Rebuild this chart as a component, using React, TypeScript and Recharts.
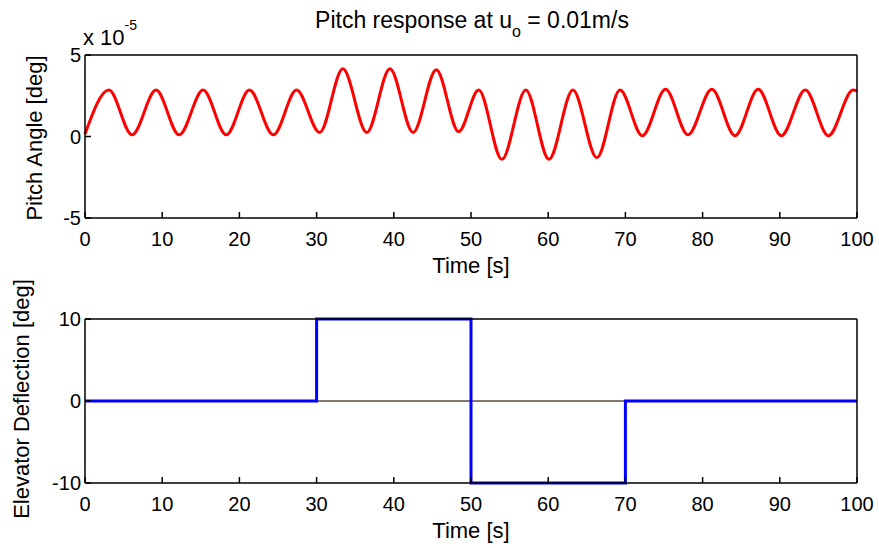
import { LineChart, Line, XAxis, YAxis, Label } from "recharts";

// pitch angle (units of 1e-5 deg)
const pitchTime = [
  0, 3.1, 6.1, 9.2, 12.2, 15.3, 18.3, 21.3, 24.4, 27.4, 30.4, 33.4, 36.5, 39.5, 42.5, 45.5, 48.4,
  51.0, 54.0, 57.1, 60.1, 63.2, 66.3, 69.3, 72.2, 75.2, 78.1, 81.2, 84.2, 87.2, 90.2, 93.3, 96.3,
  99.5, 100,
];
const pitchAngle = [
  0.15, 2.85, 0.1, 2.85, 0.1, 2.85, 0.1, 2.85, 0.1, 2.85, 0.25, 4.15, 0.25, 4.15, 0.25, 4.1, 0.3,
  2.85, -1.4, 2.85, -1.4, 2.85, -1.3, 2.85, 0.05, 2.9, 0.1, 2.9, 0.05, 2.9, 0.05, 2.85, 0.05,
  2.85, 2.8,
];

// elevator input (deg), step changes
const elevatorTime = [0, 30, 50, 70, 100];
const elevatorDeg = [0, 10, -10, 0, 0];
const zeroLineTime = [0, 100];

const timeTicks = [0, 10, 20, 30, 40, 50, 60, 70, 80, 90, 100];
const pitchTicks = [-5, 0, 5];
const elevatorTicks = [-10, 0, 10];

const FONT = "'Liberation Sans', Arial, Helvetica, sans-serif";
const TICK_LEN = 6;
const X_MARGIN = 14;
const Y_MARGIN = 4;

const pitchData = pitchTime.map((t, i) => ({ t, v: pitchAngle[i] }));
const elevatorData = elevatorTime.map((t, i) => ({ t, v: elevatorDeg[i] }));
const zeroData = zeroLineTime.map((t) => ({ t, v: 0 }));

// tick renderers: label + an inward tick mark, matlab style
function BottomTick({ x, y, payload }: any) {
  const axisY = y - X_MARGIN;
  return (
    <g>
      <line x1={x} x2={x} y1={axisY} y2={axisY - TICK_LEN} stroke="#000" strokeWidth={1.5} />
      <text x={x} y={y + 14} textAnchor="middle" fontSize={20} fontFamily={FONT} fill="#000">
        {payload.value}
      </text>
    </g>
  );
}

function LeftTick({ x, y, payload }: any) {
  const axisX = x + Y_MARGIN;
  return (
    <g>
      <line x1={axisX} x2={axisX + TICK_LEN} y1={y} y2={y} stroke="#000" strokeWidth={1.5} />
      <text x={x} y={y + 7} textAnchor="end" fontSize={20} fontFamily={FONT} fill="#000">
        {payload.value}
      </text>
    </g>
  );
}

function TopTick({ x, y }: any) {
  return <line x1={x} x2={x} y1={y} y2={y + TICK_LEN} stroke="#000" strokeWidth={1.5} />;
}

function RightTick({ x, y }: any) {
  return <line x1={x} x2={x - TICK_LEN} y1={y} y2={y} stroke="#000" strokeWidth={1.5} />;
}

function BoxAxes({ yTicks, yDomain, xHeight, labelOffset }: any) {
  return [
    <XAxis
      key="xb"
      xAxisId="main"
      dataKey="t"
      type="number"
      domain={[0, 100]}
      ticks={timeTicks}
      height={xHeight}
      tickSize={0}
      tickMargin={X_MARGIN}
      tickLine={false}
      tick={<BottomTick />}
      stroke="#000"
      strokeWidth={1.5}
      interval={0}
    >
      <Label
        value="Time [s]"
        position="insideBottom"
        offset={labelOffset}
        style={{ fill: "#000", fontSize: 22, fontFamily: FONT }}
      />
    </XAxis>,
    <XAxis
      key="xt"
      xAxisId="top"
      orientation="top"
      type="number"
      domain={[0, 100]}
      ticks={timeTicks}
      height={1}
      tickSize={0}
      tickMargin={0}
      tickLine={false}
      tick={<TopTick />}
      stroke="#000"
      strokeWidth={1.5}
      interval={0}
    />,
    <YAxis
      key="yl"
      yAxisId="main"
      type="number"
      domain={yDomain}
      ticks={yTicks}
      width={85}
      tickSize={0}
      tickMargin={Y_MARGIN}
      tickLine={false}
      tick={<LeftTick />}
      stroke="#000"
      strokeWidth={1.5}
      interval={0}
    />,
    <YAxis
      key="yr"
      yAxisId="right"
      orientation="right"
      type="number"
      domain={yDomain}
      ticks={yTicks}
      width={1}
      tickSize={0}
      tickMargin={0}
      tickLine={false}
      tick={<RightTick />}
      stroke="#000"
      strokeWidth={1.5}
      interval={0}
    />,
  ];
}

export default function App() {
  return (
    <div
      style={{
        position: "absolute",
        left: 0,
        top: 0,
        width: 879,
        height: 548,
        background: "#fff",
        fontFamily: FONT,
      }}
    >
      <div style={{ position: "absolute", left: 0, top: 0 }}>
        <LineChart width={879} height={280} margin={{ top: 54, right: 21, bottom: 0, left: 0 }}>
          {BoxAxes({ yTicks: pitchTicks, yDomain: [-5, 5], xHeight: 62, labelOffset: 7 })}
          <Line
            xAxisId="main"
            yAxisId="main"
            data={pitchData}
            dataKey="v"
            type="monotone"
            stroke="#ff0000"
            strokeWidth={3}
            dot={false}
            isAnimationActive={false}
          />
        </LineChart>
      </div>
      <div style={{ position: "absolute", left: 0, top: 280 }}>
        <LineChart width={879} height={268} margin={{ top: 38, right: 21, bottom: 0, left: 0 }}>
          {BoxAxes({ yTicks: elevatorTicks, yDomain: [-10, 10], xHeight: 65, labelOffset: 10 })}
          <Line
            xAxisId="main"
            yAxisId="main"
            data={zeroData}
            dataKey="v"
            type="linear"
            stroke="#5a4c40"
            strokeWidth={1.5}
            dot={false}
            isAnimationActive={false}
          />
          <Line
            xAxisId="main"
            yAxisId="main"
            data={elevatorData}
            dataKey="v"
            type="stepAfter"
            stroke="#0000ff"
            strokeWidth={3}
            dot={false}
            isAnimationActive={false}
          />
        </LineChart>
      </div>
      <svg
        width={879}
        height={548}
        style={{ position: "absolute", left: 0, top: 0, pointerEvents: "none" }}
        fontFamily={FONT}
      >
        <text x={472} y={28} textAnchor="middle" fontSize={23} fill="#000">
          Pitch response at u
          <tspan fontSize={16} dy={9}>o</tspan>
          <tspan dy={-9}> = 0.01m/s</tspan>
        </text>
        <text x={83} y={45} fontSize={22} fill="#000">
          x 10
          <tspan fontSize={14} dy={-15}>-5</tspan>
        </text>
        <text
          x={41.5}
          y={138}
          textAnchor="middle"
          fontSize={22}
          fill="#000"
          transform="rotate(-90 41.5 138)"
        >
          Pitch Angle [deg]
        </text>
        <text
          x={29}
          y={399}
          textAnchor="middle"
          fontSize={22}
          fill="#000"
          transform="rotate(-90 29 399)"
        >
          Elevator Deflection [deg]
        </text>
      </svg>
    </div>
  );
}
